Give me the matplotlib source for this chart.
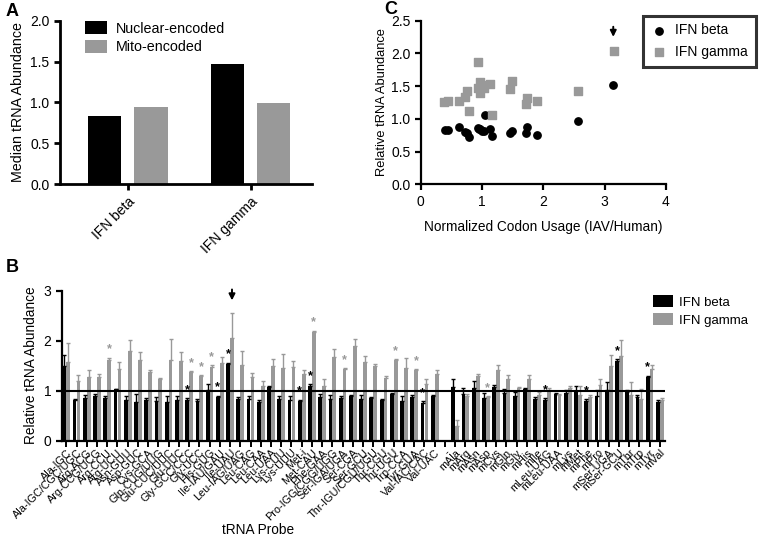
import numpy as np
import matplotlib
matplotlib.use("Agg")
import matplotlib.pyplot as plt

plt.rcParams['font.family'] = ['Liberation Sans', 'DejaVu Sans']

BLACK = '#000000'
GRAY = '#999999'

# ---------------- Panel A data ----------------
a_groups = ['IFN beta', 'IFN gamma']
a_nuclear = [0.836, 1.469]
a_mito = [0.946, 0.99]

# ---------------- Panel C data ----------------
c_beta_x = [0.39, 0.44, 0.62, 0.73, 0.76, 0.79, 0.93, 0.95, 0.967, 1.0, 1.04, 1.05, 1.13, 1.17, 1.46, 1.49, 1.71, 1.73, 1.89, 2.56, 3.14]
c_beta_y = [0.83, 0.83, 0.87, 0.80, 0.78, 0.73, 0.86, 0.85, 0.84, 0.82, 0.82, 1.06, 0.85, 0.74, 0.78, 0.82, 0.79, 0.88, 0.76, 0.97, 1.51]
c_gamma_x = [0.385, 0.44, 0.62, 0.73, 0.76, 0.79, 0.93, 0.94, 0.967, 0.967, 0.98, 1.04, 1.13, 1.17, 1.46, 1.49, 1.71, 1.73, 1.89, 2.56, 3.15]
c_gamma_y = [1.26, 1.27, 1.27, 1.34, 1.43, 1.12, 1.875, 1.47, 1.56, 1.39, 1.52, 1.47, 1.54, 1.055, 1.45, 1.58, 1.23, 1.32, 1.27, 1.42, 2.03]

# ---------------- Panel B data ----------------
b_labels = ['Ala-IGC', 'Ala-IGC/CGC/UGC', 'Arg-ACG', 'Arg-CCG/UCG', 'Arg-CCU', 'Arg-UCU',
            'Asn-GUU', 'Asp-GUC', 'Cys-GCA', 'Gln-CUG/UUG', 'Glu-CUC/UUC', 'Glu-UUC',
            'Gly-GCC/CCC', 'Gly-UCC', 'His-GUG', 'Ile-IAU/GAU', 'Ile-UAU', 'Leu-IAG/UAG',
            'Leu-CAG', 'Leu-CAA', 'Leu-UAA', 'Lys-CUU', 'Lys-UUU', 'Met-i', 'Met-CAU',
            'Phe-GAA', 'Pro-IGG/CGG/UGG', 'Ser-IGA/UGA', 'Ser-CGA', 'Ser-GCU',
            'Thr-IGU/CGU/UGU', 'Thr-CGU', 'Thr-UGU', 'Trp-CCA', 'Tyr-GUA', 'Val-IAC/CAC',
            'Val-UAC', '-',
            'mAla', 'mArg', 'mAsn', 'mAsp', 'mCys', 'mGln', 'mGly', 'mHis', 'mIle',
            'mLeu-UAG', 'mLeu-UAA', 'mLys', 'mMet', 'mPhe', 'mPro', 'mSer-UGA', 'mSer-GCU',
            'mThr', 'mTrp', 'mTyr', 'mVal']
b_beta = [1.49, 0.81, 0.86, 0.89, 0.86, 1.03, 0.81, 0.78, 0.82, 0.80, 0.78, 0.82, 0.82, 0.79,
          1.02, 0.87, 1.53, 0.84, 0.84, 0.77, 1.08, 0.83, 0.81, 0.79, 1.10, 0.87, 0.83, 0.86,
          0.89, 0.84, 0.86, 0.81, 0.94, 0.79, 0.87, 0.76, 0.90, np.nan,
          1.08, 0.93, 1.06, 0.86, 1.08, 0.96, 0.89, 1.03, 0.84, 0.82, 0.93, 0.96, 0.99, 0.80,
          0.90, 1.02, 1.59, 0.98, 0.87, 1.28, 0.78]
b_beta_err = [0.22, 0.03, 0.05, 0.05, 0.04, 0.01, 0.09, 0.15, 0.04, 0.08, 0.11, 0.07, 0.03, 0.05,
              0.11, 0.03, 0.03, 0.03, 0.06, 0.04, 0.02, 0.06, 0.08, 0.03, 0.03, 0.07, 0.09, 0.03,
              0.03, 0.07, 0.02, 0.03, 0.01, 0.10, 0.04, 0.03, 0.02, np.nan,
              0.16, 0.13, 0.14, 0.09, 0.03, 0.07, 0.09, 0.02, 0.04, 0.03, 0.02, 0.05, 0.10, 0.03,
              0.11, 0.16, 0.04, 0.04, 0.05, 0.02, 0.04]
b_gamma = [1.58, 1.20, 1.28, 1.28, 1.61, 1.43, 1.80, 1.61, 1.37, 1.24, 1.61, 1.60, 1.38, 1.30,
           1.48, 1.56, 2.06, 1.51, 1.28, 1.09, 1.49, 1.46, 1.48, 1.34, 2.18, 1.09, 1.68, 1.43,
           1.89, 1.58, 1.49, 1.26, 1.61, 1.46, 1.41, 1.14, 1.34, np.nan,
           0.30, 0.90, 1.30, 0.87, 1.42, 1.24, 1.06, 1.23, 0.92, 1.02, 0.92, 1.05, 0.92, 0.87,
           1.11, 1.50, 1.69, 0.91, 0.84, 1.44, 0.82]
b_gamma_err = [0.38, 0.12, 0.13, 0.05, 0.05, 0.15, 0.21, 0.17, 0.04, 0.02, 0.43, 0.18, 0.01, 0.01,
               0.03, 0.12, 0.50, 0.29, 0.08, 0.11, 0.15, 0.28, 0.12, 0.07, 0.02, 0.14, 0.16, 0.02,
               0.15, 0.11, 0.04, 0.04, 0.02, 0.20, 0.02, 0.10, 0.07, np.nan,
               0.12, 0.03, 0.03, 0.02, 0.09, 0.08, 0.02, 0.08, 0.05, 0.03, 0.02, 0.04, 0.17, 0.05,
               0.12, 0.21, 0.32, 0.27, 0.20, 0.07, 0.03]
b_beta_sig = ['Gly-GCC/CCC', 'Ile-IAU/GAU', 'Ile-UAU', 'Met-i', 'Met-CAU', 'Val-IAC/CAC',
              'mLeu-UAG', 'mPhe', 'mSer-GCU', 'mTyr']
b_gamma_sig = ['Arg-CCU', 'Gly-GCC/CCC', 'Gly-UCC', 'His-GUG', 'Met-CAU', 'Ser-IGA/UGA',
               'Thr-UGU', 'Tyr-GUA', 'mAsp']
b_arrow = 'Ile-UAU'
c_arrow = (3.14, 2.03)

fig = plt.figure(figsize=(7.6, 5.4), dpi=100)

def style_axes(ax, lw=1.6):
    for s in ['top', 'right']:
        ax.spines[s].set_visible(False)
    for s in ['left', 'bottom']:
        ax.spines[s].set_linewidth(lw)
    ax.tick_params(direction='out', width=lw, length=4, color='black')

# ---------------- Panel A ----------------
axA = fig.add_axes([60/760, 1-184/540, (312-60)/760, 163.3/540])
xa = np.arange(len(a_groups))
w = 0.27
axA.bar(xa - 0.19, a_nuclear, w, color=BLACK, label='Nuclear-encoded')
axA.bar(xa + 0.19, a_mito, w, color=GRAY, label='Mito-encoded')
axA.set_xlim(-0.55, 1.5)
axA.set_ylim(0, 2.0)
axA.set_yticks([0, 0.5, 1.0, 1.5, 2.0])
axA.set_yticklabels(['0.0', '0.5', '1.0', '1.5', '2.0'], fontsize=10)
axA.set_xticks(xa)
axA.set_xticklabels(a_groups, rotation=45, ha='right', rotation_mode='anchor', fontsize=10)
axA.set_ylabel('Median tRNA Abundance', fontsize=10.3)
style_axes(axA, 2.0)
axA.legend(loc='upper left', bbox_to_anchor=(0.05, 1.075), frameon=False, fontsize=10.3,
           handlelength=1.5, handleheight=1.0, handletextpad=0.6, labelspacing=0.3)

# ---------------- Panel C ----------------
axC = fig.add_axes([420.7/760, 1-184.3/540, 245.3/760, 163.6/540])
axC.scatter(c_beta_x, c_beta_y, s=28, marker='o', color=BLACK, label='IFN beta', zorder=3)
axC.scatter(c_gamma_x, c_gamma_y, s=28, marker='s', color=GRAY, label='IFN gamma', zorder=3)
axC.set_xlim(0, 4)
axC.set_ylim(0, 2.5)
axC.set_xticks([0, 1, 2, 3, 4])
axC.set_yticks([0, 0.5, 1.0, 1.5, 2.0, 2.5])
axC.set_yticklabels(['0.0', '0.5', '1.0', '1.5', '2.0', '2.5'], fontsize=10)
axC.set_xticklabels(['0', '1', '2', '3', '4'], fontsize=10)
axC.set_xlabel('Normalized Codon Usage (IAV/Human)', fontsize=9.8, labelpad=8)
axC.set_ylabel('Relative tRNA Abundance', fontsize=9.3, labelpad=2)
style_axes(axC, 1.6)
legC = axC.legend(loc='upper left', bbox_to_anchor=(0.905, 1.03), frameon=True, fontsize=10,
                  fancybox=False, edgecolor='black', handletextpad=0.6, borderpad=0.55,
                  labelspacing=0.55, scatterpoints=1, handlelength=1.2, borderaxespad=0.0)
legC.get_frame().set_linewidth(2.2)
axC.annotate('', xy=(c_arrow[0], c_arrow[1] + 0.18), xytext=(c_arrow[0], c_arrow[1] + 0.42),
             arrowprops=dict(arrowstyle='-|>', color='black', lw=1.4, mutation_scale=9),
             annotation_clip=False)

# ---------------- Panel B ----------------
axB = fig.add_axes([62/760, 1-440.5/540, (665-62)/760, 149.8/540])
xb = np.arange(len(b_labels))
bw = 0.37
beta = np.array(b_beta, dtype=float)
gamma = np.array(b_gamma, dtype=float)
beta_err = np.array(b_beta_err, dtype=float)
gamma_err = np.array(b_gamma_err, dtype=float)
axB.bar(xb - 0.19, beta, bw, color=BLACK, label='IFN beta', zorder=2)
axB.bar(xb + 0.19, gamma, bw, color=GRAY, label='IFN gamma', zorder=2)
axB.errorbar(xb - 0.19, beta, yerr=[np.zeros_like(beta_err), beta_err], fmt='none',
             ecolor=BLACK, elinewidth=1.0, capsize=1.5, capthick=1.0, zorder=2)
axB.errorbar(xb + 0.19, gamma, yerr=[np.zeros_like(gamma_err), gamma_err], fmt='none',
             ecolor=GRAY, elinewidth=1.0, capsize=1.5, capthick=1.0, zorder=2)
axB.axhline(1.0, color='black', lw=1.5, zorder=3)
for name in b_beta_sig:
    i = b_labels.index(name)
    axB.text(i - 0.19, beta[i] + beta_err[i] + 0.04, '*', color=BLACK, ha='center',
             va='bottom', fontsize=9, fontweight='bold')
for name in b_gamma_sig:
    i = b_labels.index(name)
    axB.text(i + 0.19, gamma[i] + gamma_err[i] + 0.04, '*', color=GRAY, ha='center',
             va='bottom', fontsize=9, fontweight='bold')
ia = b_labels.index(b_arrow)
axB.annotate('', xy=(ia + 0.19, 2.75), xytext=(ia + 0.19, 3.08),
             arrowprops=dict(arrowstyle='-|>', color='black', lw=1.4, mutation_scale=9),
             annotation_clip=False)
axB.set_xlim(-0.42, 58.5)
axB.set_ylim(0, 3)
axB.set_yticks([0, 1, 2, 3])
axB.set_yticklabels(['0', '1', '2', '3'], fontsize=10)
axB.set_xticks(xb)
axB.set_xticklabels(b_labels, rotation=45, ha='right', rotation_mode='anchor', fontsize=7.8)
axB.set_ylabel('Relative tRNA Abundance', fontsize=9.8)
style_axes(axB, 1.6)
axB.tick_params(axis='x', length=4, width=1.4, pad=1)
axB.legend(loc='upper left', bbox_to_anchor=(0.96, 1.05), frameon=False, fontsize=9.5,
           handlelength=1.5, handleheight=1.0, handletextpad=0.5, labelspacing=0.35)
fig.text(258/760, 1-530/540, 'tRNA Probe', ha='center', va='center', fontsize=9.8)

# panel letters
fig.text(6/760, 1-12/540, 'A', fontsize=13, fontweight='bold', va='center', ha='left')
fig.text(6/760, 1-268/540, 'B', fontsize=13, fontweight='bold', va='center', ha='left')
fig.text(384/760, 1-10/540, 'C', fontsize=13, fontweight='bold', va='center', ha='left')

fig.savefig('out.png', dpi=100)
